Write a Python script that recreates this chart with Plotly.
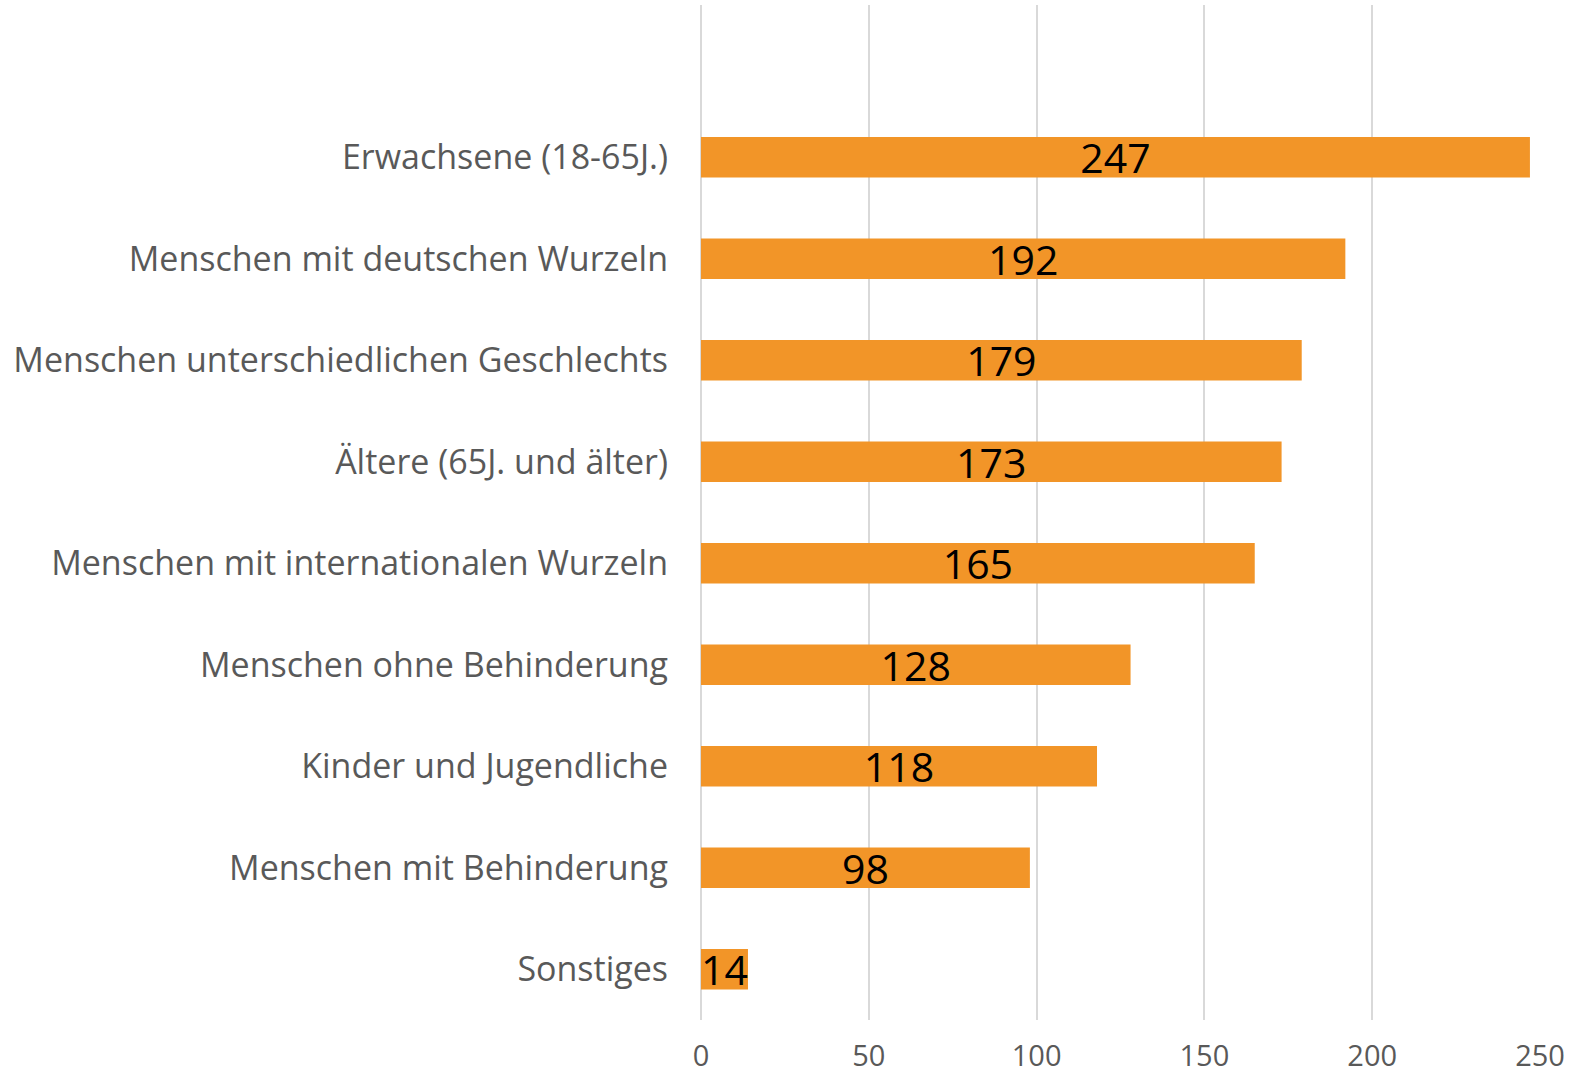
import plotly.graph_objects as go

categories = [
    "Sonstiges",
    "Menschen mit Behinderung",
    "Kinder und Jugendliche",
    "Menschen ohne Behinderung",
    "Menschen mit internationalen Wurzeln",
    "Ältere (65J. und älter)",
    "Menschen unterschiedlichen Geschlechts",
    "Menschen mit deutschen Wurzeln",
    "Erwachsene (18-65J.)",
]
values = [14, 98, 118, 128, 165, 173, 179, 192, 247]
x_ticks = [0, 50, 100, 150, 200, 250]

fig = go.Figure(
    go.Bar(
        x=values,
        y=categories,
        orientation="h",
        marker=dict(color="#F29528", line=dict(width=0)),
        width=0.4,
        text=[str(v) for v in values],
        textposition="inside",
        insidetextanchor="middle",
        textangle=0,
        constraintext="none",
        textfont=dict(family="Open Sans", size=41, color="#000000"),
        cliponaxis=False,
    )
)

fig.update_layout(
    width=1570,
    height=1074,
    paper_bgcolor="white",
    plot_bgcolor="white",
    margin=dict(l=701, r=30, t=5, b=54),
    showlegend=False,
    font=dict(family="Open Sans", color="#595959"),
)
fig.update_xaxes(
    range=[0, 250],
    tickvals=x_ticks,
    showgrid=True,
    gridcolor="#D9D9D9",
    gridwidth=1.5,
    zeroline=True,
    zerolinecolor="#D9D9D9",
    zerolinewidth=1.5,
    showline=False,
    tickfont=dict(size=29, color="#595959"),
    ticks="",
    ticklabelstandoff=16,
    automargin=False,
    fixedrange=True,
)
fig.update_yaxes(
    type="category",
    categoryorder="array",
    categoryarray=categories,
    range=[-0.5, 9.5],
    showgrid=False,
    showline=False,
    ticks="",
    tickfont=dict(size=34, color="#595959"),
    ticklabelstandoff=32,
    automargin=False,
    fixedrange=True,
)

fig.write_html(
    "out.html",
    config={"displayModeBar": False},
    post_script="document.body.style.margin='0';document.body.style.overflow='hidden';",
)
